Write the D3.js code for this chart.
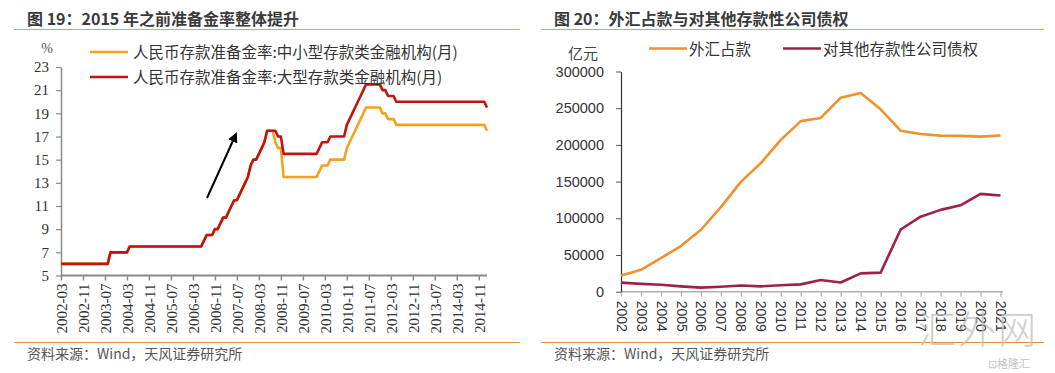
<!doctype html>
<html>
<head>
<meta charset="utf-8">
<style>
    body { margin: 0; background: #fff; }
    svg { display: block; }
    .title { font-family: "Noto Sans CJK SC", sans-serif; font-weight: bold; font-size: 16px; fill: #3a3a3a; }
    .src { font-family: "Noto Sans CJK SC", sans-serif; font-size: 14px; fill: #555; }
    .serif { font-family: "Liberation Serif", "DejaVu Serif", serif; }
    .sans { font-family: "Liberation Sans", Arial, sans-serif; }
</style>
<script src="https://d3js.org/d3.v7.min.js"></script>
</head>
<body>
<svg width="1055" height="373"></svg>
<script>
    // ---- figure 19: reserve requirement ratio, change months and month-end levels
    var rrrMonths = ["2002-03","2003-09","2004-04","2006-07","2006-08","2006-11","2007-01","2007-02","2007-04","2007-05",
                     "2007-06","2007-08","2007-09","2007-10","2007-11","2007-12","2008-01","2008-03","2008-04","2008-05",
                     "2008-06","2008-09","2008-10","2008-12","2010-01","2010-02","2010-05","2010-11","2010-12","2011-01",
                     "2011-02","2011-03","2011-04","2011-05","2011-06","2011-12","2012-02","2012-05","2015-02"];
    var rrrLarge  = [6,7,7.5,8,8.5,9,9.5,10,10.5,11, 11.5,12,12.5,13,13.5,14.5,15,15.5,16,16.5,
                     17.5,17.5,17,15.5,16,16.5,17,18,18.5,19, 19.5,20,20.5,21,21.5,21,20.5,20,19.5];
    var rrrSmall  = [6,7,7.5,8,8.5,9,9.5,10,10.5,11, 11.5,12,12.5,13,13.5,14.5,15,15.5,16,16.5,
                     17.5,16.5,16,13.5,14,14.5,15,16,16.5,17, 17.5,18,18.5,19,19.5,19,18.5,18,17.5];
    var rrrTicks = ["2002-03","2002-11","2003-07","2004-03","2004-11","2005-07","2006-03","2006-11","2007-07","2008-03",
                    "2008-11","2009-07","2010-03","2010-11","2011-07","2012-03","2012-11","2013-07","2014-03","2014-11"];
    var rrrNames = ["人民币存款准备金率:中小型存款类金融机构(月)", "人民币存款准备金率:大型存款类金融机构(月)"];
    var rrrYTicks = [5,7,9,11,13,15,17,19,21,23];

    // ---- figure 20: yearly, 亿元
    var years = ["2002","2003","2004","2005","2006","2007","2008","2009","2010","2011",
                 "2012","2013","2014","2015","2016","2017","2018","2019","2020","2021"];
    var fxReserve = [22100,29800,45900,62100,84400,115200,149600,175200,206800,232400,
                     236700,264300,270700,248500,219400,214800,212600,212300,211300,212900];
    var claimsOnBanks = [12300,10600,9500,7300,5600,6800,8500,7300,8700,10000,
                         16000,12500,25000,26000,84700,102200,111500,117700,133300,131000];
    var fxNames = ["外汇占款", "对其他存款性公司债权"];

    var svg = d3.select("svg");

    // monthly category list from first to last change month
    var parse = d3.timeParse("%Y-%m"), fmt = d3.timeFormat("%Y-%m");
    var months = d3.timeMonth.range(parse(rrrMonths[0]), d3.timeMonth.offset(parse(rrrMonths[rrrMonths.length - 1]), 1)).map(fmt);

    // month-end level = most recent change at or before that month
    function monthly(levels) {
        var j = 0;
        return months.map(function(m) {
            while (j + 1 < rrrMonths.length && rrrMonths[j + 1] <= m) j++;
            return { m: m, v: levels[j] };
        });
    }

    // ---------- frames (titles, rules, sources)
    function frame(x0, x1, title) {
        svg.append("text").attr("class", "title").attr("x", x0 + 13).attr("y", 25).text(title);
        svg.append("line").attr("x1", x0).attr("x2", x1).attr("y1", 29.5).attr("y2", 29.5)
           .attr("stroke", "#dfa35c").attr("stroke-width", 1.2);
        svg.append("line").attr("x1", x0).attr("x2", x1).attr("y1", 342.5).attr("y2", 342.5)
           .attr("stroke", "#e3913f").attr("stroke-width", 1.2);
        svg.append("text").attr("class", "src").attr("x", x0 + 13).attr("y", 359).text("资料来源：Wind，天风证券研究所");
    }
    frame(14, 520, "图 19：2015 年之前准备金率整体提升");
    frame(541, 1044, "图 20：外汇占款与对其他存款性公司债权");

    // ---------- left chart
    var x1 = d3.scalePoint().domain(months).range([61, 487]);
    var y1 = d3.scaleLinear().domain([5, 23]).range([275.5, 67]);

    var gx1 = svg.append("g").attr("transform", "translate(0,275.5)")
        .call(d3.axisBottom(x1).tickValues(rrrTicks).tickSize(5).tickSizeOuter(0));
    gx1.select(".domain").attr("stroke", "#8a8a8a").attr("stroke-width", 2).attr("d", "M61,0H487");
    gx1.selectAll(".tick line").attr("stroke", "#8a8a8a").attr("stroke-width", 1.5);
    gx1.selectAll(".tick text").attr("class", "serif").attr("font-size", 15).attr("fill", "#333")
        .attr("transform", "rotate(-90)").attr("text-anchor", "end")
        .attr("x", -8).attr("y", 0).attr("dy", "0.35em");

    var gy1 = svg.append("g").attr("transform", "translate(61,0)")
        .call(d3.axisLeft(y1).tickValues(rrrYTicks).tickSize(5).tickSizeOuter(0));
    gy1.select(".domain").attr("stroke", "#8a8a8a").attr("stroke-width", 1.5);
    gy1.selectAll(".tick line").attr("stroke", "#8a8a8a").attr("stroke-width", 1.2);
    gy1.selectAll(".tick text").attr("class", "serif").attr("font-size", 15).attr("fill", "#333").attr("x", -12);

    svg.append("text").attr("class", "serif").attr("x", 47).attr("y", 53).attr("text-anchor", "middle")
       .attr("font-size", 14).attr("fill", "#555").text("%");

    var line1 = d3.line().x(function(d) { return x1(d.m); }).y(function(d) { return y1(d.v); });
    var leftColors = ["#f4a21d", "#c0140e"];
    [rrrSmall, rrrLarge].forEach(function(levels, i) {
        svg.append("path").datum(monthly(levels)).attr("d", line1)
           .attr("fill", "none").attr("stroke", leftColors[i]).attr("stroke-width", 2.6)
           .attr("stroke-linejoin", "round");
    });

    rrrNames.forEach(function(name, i) {
        var ly = 52 + i * 25;
        svg.append("line").attr("x1", 90).attr("x2", 128).attr("y1", ly).attr("y2", ly)
           .attr("stroke", leftColors[i]).attr("stroke-width", 2.6);
        svg.append("text").attr("x", 133).attr("y", ly + 6)
           .attr("font-family", "Noto Sans CJK SC, sans-serif").attr("font-size", 15.5).attr("fill", "#333")
           .text(name);
    });

    // trend arrow
    svg.append("defs").append("marker").attr("id", "head").attr("viewBox", "0 0 10 10")
       .attr("refX", 8).attr("refY", 5).attr("markerWidth", 5).attr("markerHeight", 5).attr("orient", "auto")
       .append("path").attr("d", "M0,0L10,5L0,10Z").attr("fill", "#000");
    svg.append("line").attr("x1", 207).attr("y1", 198).attr("x2", 236).attr("y2", 134)
       .attr("stroke", "#000").attr("stroke-width", 2).attr("marker-end", "url(#head)");

    // ---------- right chart
    var x2 = d3.scalePoint().domain(years).range([621, 1000.5]);
    var y2 = d3.scaleLinear().domain([0, 300000]).range([291.7, 71.5]);

    var gx2 = svg.append("g").attr("transform", "translate(0,291.7)")
        .call(d3.axisBottom(x2).tickSize(5).tickSizeOuter(0));
    gx2.select(".domain").attr("stroke", "#b0b0b0").attr("stroke-width", 1.5).attr("d", "M621,0H1003");
    gx2.selectAll(".tick line").attr("stroke", "#b0b0b0").attr("stroke-width", 1.2);
    gx2.selectAll(".tick text").attr("class", "sans").attr("font-size", 14).attr("fill", "#333")
        .attr("transform", "rotate(90)").attr("text-anchor", "start")
        .attr("x", 9).attr("y", 0).attr("dy", "0.35em");

    var gy2 = svg.append("g").attr("transform", "translate(621,0)")
        .call(d3.axisLeft(y2).ticks(6).tickFormat(d3.format("d")).tickSize(5).tickSizeOuter(0));
    gy2.select(".domain").attr("stroke", "#333").attr("stroke-width", 1.2);
    gy2.selectAll(".tick line").attr("stroke", "#555").attr("stroke-width", 1);
    gy2.selectAll(".tick text").attr("class", "sans").attr("font-size", 14.5).attr("fill", "#333").attr("x", -17);

    svg.append("text").attr("x", 583).attr("y", 59).attr("text-anchor", "middle")
       .attr("font-family", "Noto Sans CJK SC, sans-serif").attr("font-size", 15).attr("fill", "#444").text("亿元");

    var rightColors = ["#ef912e", "#9c2248"];
    var line2 = d3.line().x(function(d, i) { return x2(years[i]); }).y(function(d) { return y2(d); });
    [fxReserve, claimsOnBanks].forEach(function(vals, i) {
        svg.append("path").datum(vals).attr("d", line2)
           .attr("fill", "none").attr("stroke", rightColors[i]).attr("stroke-width", 2.6)
           .attr("stroke-linejoin", "round");
    });

    var legendX = [649, 783];
    fxNames.forEach(function(name, i) {
        svg.append("line").attr("x1", legendX[i]).attr("x2", legendX[i] + 38).attr("y1", 48.5).attr("y2", 48.5)
           .attr("stroke", rightColors[i]).attr("stroke-width", 2.6);
        svg.append("text").attr("x", legendX[i] + 40).attr("y", 55)
           .attr("font-family", "Noto Sans CJK SC, sans-serif").attr("font-size", 15.5).attr("fill", "#333")
           .text(name);
    });

    // watermark
    svg.append("text").attr("x", 918).attr("y", 343).attr("font-family", "Noto Sans CJK SC, sans-serif")
       .attr("font-size", 38).attr("font-weight", 300).attr("fill", "#bdbdbd").attr("opacity", 0.75)
       .attr("letter-spacing", 2).text("汇外网");
    svg.append("text").attr("x", 988).attr("y", 368).attr("font-family", "Noto Sans CJK SC, sans-serif")
       .attr("font-size", 11).attr("fill", "#b5b5b5").attr("opacity", 0.8).text("⊡格隆汇");
</script>
</body>
</html>
